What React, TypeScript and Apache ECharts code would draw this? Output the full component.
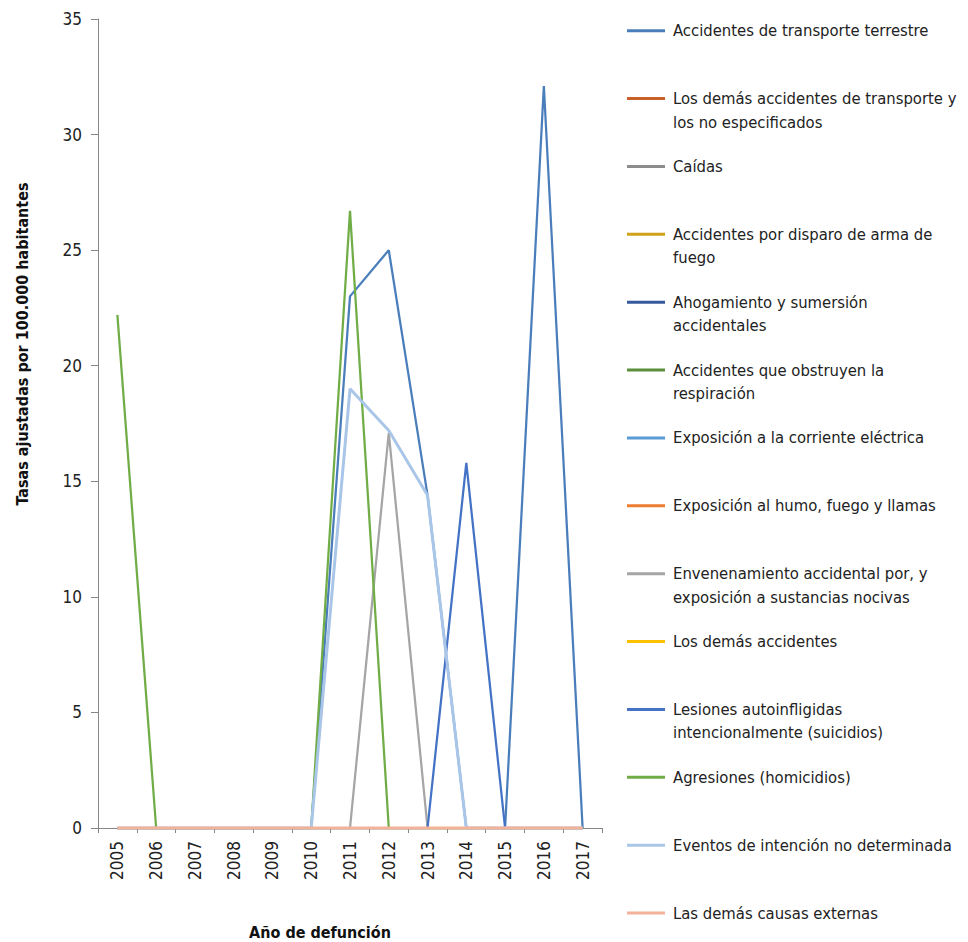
import React, { useEffect, useRef } from "react";
import * as echarts from "echarts";

const years = ["2005", "2006", "2007", "2008", "2009", "2010", "2011", "2012", "2013", "2014", "2015", "2016", "2017"];

const yTicks = { min: 0, max: 35, interval: 5 };

// Legend lines (first line, optional second line)
const causeLabels: string[][] = [
  ["Accidentes de transporte terrestre"],
  ["Los demás accidentes de transporte y", "los no especificados"],
  ["Caídas"],
  ["Accidentes por disparo de arma de", "fuego"],
  ["Ahogamiento y sumersión", "accidentales"],
  ["Accidentes que obstruyen la", "respiración"],
  ["Exposición a la corriente eléctrica"],
  ["Exposición al humo, fuego y llamas"],
  ["Envenenamiento accidental por, y", "exposición a sustancias nocivas"],
  ["Los demás accidentes"],
  ["Lesiones autoinfligidas", "intencionalmente (suicidios)"],
  ["Agresiones (homicidios)"],
  ["Eventos de intención no determinada"],
  ["Las demás causas externas"],
];

const causeColors = [
  "#4A7EBB", "#C9602A", "#8C8C8C", "#D0A21A", "#36599E", "#5C8F3C", "#5B9BD5",
  "#ED7D31", "#A5A5A5", "#FFC000", "#4472C4", "#70AD47", "#A9C6E8", "#F4B29A",
];

const transporteTerrestre = [0, 0, 0, 0, 0, 0, 23.0, 25.0, 14.4, 0, 0, 32.1, 0];
const demasTransporte = [0, 0, 0, 0, 0, 0, 0, 0, 0, 0, 0, 0, 0];
const caidas = [0, 0, 0, 0, 0, 0, 0, 0, 0, 0, 0, 0, 0];
const disparoArma = [0, 0, 0, 0, 0, 0, 0, 0, 0, 0, 0, 0, 0];
const ahogamiento = [0, 0, 0, 0, 0, 0, 0, 0, 0, 0, 0, 0, 0];
const obstruyenRespiracion = [0, 0, 0, 0, 0, 0, 0, 0, 0, 0, 0, 0, 0];
const corrienteElectrica = [0, 0, 0, 0, 0, 0, 0, 0, 0, 0, 0, 0, 0];
const humoFuego = [0, 0, 0, 0, 0, 0, 0, 0, 0, 0, 0, 0, 0];
const envenenamiento = [0, 0, 0, 0, 0, 0, 0, 17.1, 0, 0, 0, 0, 0];
const demasAccidentes = [0, 0, 0, 0, 0, 0, 0, 0, 0, 0, 0, 0, 0];
const suicidios = [0, 0, 0, 0, 0, 0, 0, 0, 0, 15.8, 0, 0, 0];
const homicidios = [22.2, 0, 0, 0, 0, 0, 26.7, 0, 0, 0, 0, 0, 0];
const intencionNoDeterminada = [0, 0, 0, 0, 0, 0, 19.0, 17.2, 14.4, 0, 0, 0, 0];
const demasCausasExternas = [0, 0, 0, 0, 0, 0, 0, 0, 0, 0, 0, 0, 0];

const seriesValues = [
  transporteTerrestre, demasTransporte, caidas, disparoArma, ahogamiento,
  obstruyenRespiracion, corrienteElectrica, humoFuego, envenenamiento,
  demasAccidentes, suicidios, homicidios, intencionNoDeterminada, demasCausasExternas,
];

const FONT = "'Liberation Sans Narrow', 'Arial Narrow', 'DejaVu Sans Condensed', 'Roboto Condensed', 'Liberation Sans', sans-serif";

export default function App() {
  const ref = useRef<HTMLDivElement>(null);

  useEffect(() => {
    if (!ref.current) return;
    const chart = echarts.init(ref.current, undefined, { renderer: "svg" });

    const names = causeLabels.map((l) => l.join(" "));
    const firstLine: Record<string, string> = {};
    causeLabels.forEach((l, i) => (firstLine[names[i]] = l[0]));

    const legendTop = 20.7;
    const legendStep = 67.87;
    const legendItemH = 20;

    const secondLines: any[] = [];
    causeLabels.forEach((l, i) => {
      if (l.length > 1) {
        secondLines.push({
          type: "text",
          x: 673,
          y: legendTop + legendItemH / 2 + legendStep * i + 23.5,
          style: {
            text: l[1],
            fill: "#222",
            font: `16.5px ${FONT}`,
            align: "left",
            verticalAlign: "middle",
          },
        });
      }
    });

    chart.setOption({
      animation: false,
      backgroundColor: "#fff",
      grid: { left: 98, right: 366, top: 19, bottom: 114, containLabel: false },
      legend: {
        orient: "vertical",
        left: 627,
        top: legendTop,
        padding: 0,
        itemGap: legendStep - legendItemH,
        itemWidth: 38,
        itemHeight: 3,
        icon: "rect",
        selectedMode: false,
        data: names,
        formatter: (n: string) => firstLine[n] ?? n,
        textStyle: {
          fontFamily: FONT,
          fontSize: 16.5,
          lineHeight: legendItemH,
          color: "#222",
          padding: [0, 0, 0, 3],
        },
      },
      xAxis: {
        type: "category",
        data: years,
        boundaryGap: true,
        axisLine: { lineStyle: { color: "#868686", width: 1 } },
        axisTick: { show: true, length: 5, lineStyle: { color: "#868686" } },
        axisLabel: {
          rotate: 90,
          margin: 13,
          fontFamily: FONT,
          fontSize: 17,
          color: "#222",
          interval: 0,
        },
        splitLine: { show: false },
      },
      yAxis: {
        type: "value",
        min: yTicks.min,
        max: yTicks.max,
        interval: yTicks.interval,
        axisLine: { show: true, lineStyle: { color: "#868686", width: 1 } },
        axisTick: { show: true, length: 7, lineStyle: { color: "#868686" } },
        axisLabel: {
          margin: 16,
          fontFamily: FONT,
          fontSize: 17,
          color: "#222",
        },
        splitLine: { show: false },
      },
      graphic: [
        {
          type: "text",
          x: 22,
          y: 344,
          rotation: Math.PI / 2,
          style: {
            text: "Tasas ajustadas por 100.000 habitantes",
            fill: "#111",
            font: `bold 16px ${FONT}`,
            align: "center",
            verticalAlign: "middle",
          },
        },
        {
          type: "text",
          x: 320,
          y: 932,
          style: {
            text: "Año de defunción",
            fill: "#111",
            font: `bold 16px ${FONT}`,
            align: "center",
            verticalAlign: "middle",
          },
        },
        ...secondLines,
      ],
      series: names.map((name, i) => ({
        name,
        type: "line",
        data: seriesValues[i],
        symbol: "none",
        showSymbol: false,
        color: causeColors[i],
        lineStyle: { color: causeColors[i], width: i === 12 || i === 13 ? 3 : 2.25 },
        z: 2 + i,
      })),
    });

    return () => chart.dispose();
  }, []);

  return (
    <div
      ref={ref}
      style={{ position: "fixed", left: 0, top: 0, width: 968, height: 942 }}
    />
  );
}
